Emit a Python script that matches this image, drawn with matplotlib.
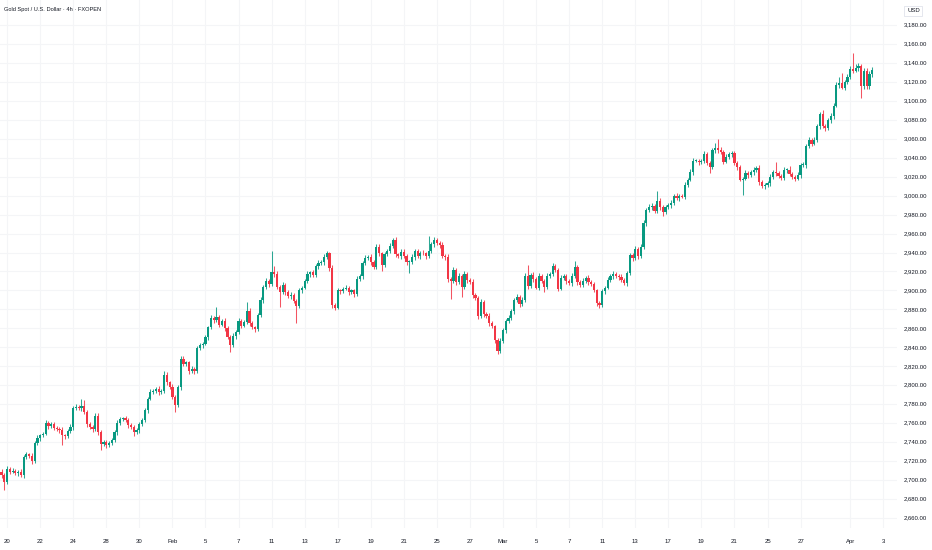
import numpy as np
import matplotlib
matplotlib.use("Agg")
import matplotlib.pyplot as plt
from matplotlib import font_manager as fm
from matplotlib.transforms import blended_transform_factory

# ---------------- data (4h candles, XAUUSD FXOPEN) ----------------
title = "Gold Spot / U.S. Dollar \u00b7 4h \u00b7 FXOPEN"
currency = "USD"
first_day = "2025-01-17"   # the series starts with the last 3 bars of this day
first_slot = 3
first_open = 2715

close = [
    2709, 2705, 2698,                       # Jan 17
    2712, 2709, 2710, 2707, 2709, 2705,     # Jan 20
    2724, 2727, 2725, 2720, 2739, 2744,     # Jan 21
    2747, 2749, 2760, 2757, 2759, 2755,     # Jan 22
    2754, 2753, 2747, 2746, 2752, 2756,     # Jan 23
    2776, 2777, 2776, 2778, 2772, 2759,     # Jan 24
    2756, 2754, 2768, 2751, 2738, 2740,     # Jan 27
    2737, 2739, 2742, 2751, 2760, 2764,     # Jan 28
    2765, 2763, 2758, 2756, 2751, 2753,     # Jan 29
    2759, 2763, 2774, 2786, 2793, 2794,     # Jan 30
    2796, 2793, 2794, 2811, 2803, 2798,     # Jan 31
    2788, 2779, 2798, 2828, 2822, 2824,     # Feb 3
    2815, 2817, 2815, 2839, 2842, 2844,     # Feb 4
    2851, 2861, 2871, 2869, 2872, 2864,     # Feb 5
    2868, 2860, 2851, 2842, 2852, 2856,     # Feb 6
    2868, 2863, 2867, 2878, 2866, 2861,     # Feb 7
    2859, 2874, 2890, 2904, 2910, 2907,     # Feb 10
    2919, 2917, 2904, 2898, 2906, 2898,     # Feb 11
    2894, 2895, 2889, 2884, 2900, 2903,     # Feb 12
    2910, 2917, 2919, 2916, 2926, 2929,     # Feb 13
    2930, 2935, 2939, 2924, 2885, 2882,     # Feb 14
    2900, 2899, 2902, 2903, 2898, 2900,     # Feb 17
    2896, 2912, 2915, 2929, 2934, 2935,     # Feb 18
    2930, 2925, 2946, 2939, 2927, 2938,     # Feb 19
    2942, 2947, 2953, 2938, 2936, 2941,     # Feb 20
    2936, 2930, 2930, 2935, 2942, 2936,     # Feb 21
    2940, 2939, 2936, 2942, 2949, 2953,     # Feb 24
    2950, 2948, 2936, 2935, 2912, 2910,     # Feb 25
    2922, 2909, 2915, 2904, 2917, 2911,     # Feb 26
    2909, 2895, 2892, 2873, 2888, 2875,     # Feb 27
    2873, 2866, 2862, 2848, 2836, 2847,     # Feb 28
    2858, 2868, 2871, 2878, 2890, 2893,     # Mar 3
    2886, 2890, 2915, 2905, 2916, 2912,     # Mar 4
    2903, 2915, 2910, 2904, 2915, 2917,     # Mar 5
    2926, 2922, 2902, 2913, 2915, 2910,     # Mar 6
    2908, 2915, 2925, 2909, 2906, 2910,     # Mar 7
    2913, 2909, 2907, 2900, 2887, 2885,     # Mar 10
    2899, 2903, 2911, 2915, 2917, 2915,     # Mar 11
    2914, 2911, 2908, 2918, 2937, 2934,     # Mar 12
    2944, 2936, 2946, 2971, 2985, 2988,     # Mar 13
    2989, 2984, 2994, 2988, 2983, 2988,     # Mar 14
    2990, 2992, 3000, 2997, 3000, 2999,     # Mar 17
    3011, 3017, 3025, 3037, 3037, 3035,     # Mar 18
    3037, 3044, 3034, 3030, 3048, 3050,     # Mar 19
    3048, 3046, 3036, 3041, 3044, 3045,     # Mar 20
    3034, 3030, 3017, 3018, 3024, 3022,     # Mar 21
    3025, 3027, 3029, 3014, 3010, 3011,     # Mar 24
    3013, 3020, 3025, 3024, 3021, 3019,     # Mar 25
    3027, 3027, 3023, 3020, 3018, 3022,     # Mar 26
    3032, 3032, 3052, 3059, 3055, 3059,     # Mar 27
    3073, 3086, 3073, 3071, 3080, 3084,     # Mar 28
    3095, 3117, 3119, 3114, 3120, 3125,     # Mar 31
    3134, 3132, 3135, 3137, 3116, 3131,     # Apr 1
    3116, 3128, 3133,                       # Apr 2
]

# upper / lower wick lengths (USD) above / below the candle body
wick_up = [
    2, 3, 2,
    3, 2, 3, 2, 2, 3,
    2, 3, 2, 3, 2, 3,
    2, 2, 3, 2, 2, 2,
    2, 2, 3, 2, 2, 3,
    2, 3, 2, 7, 6, 2,
    2, 2, 3, 3, 2, 2,
    2, 2, 2, 2, 3, 2,
    2, 3, 2, 2, 2, 2,
    2, 2, 2, 2, 3, 2,
    2, 3, 2, 4, 3, 2,
    3, 2, 2, 3, 3, 2,
    2, 3, 2, 2, 3, 2,
    2, 2, 3, 2, 11, 2,
    2, 3, 2, 2, 3, 2,
    3, 2, 2, 10, 3, 2,
    2, 2, 3, 2, 3, 2,
    23, 7, 3, 2, 3, 2,
    2, 3, 2, 2, 3, 2,
    2, 3, 2, 3, 2, 3,
    2, 3, 3, 2, 3, 2,
    3, 2, 2, 3, 2, 2,
    2, 3, 2, 2, 3, 2,
    3, 2, 3, 3, 2, 3,
    2, 3, 2, 3, 2, 3,
    3, 2, 2, 3, 2, 2,
    2, 3, 2, 15, 2, 3,
    2, 2, 3, 2, 3, 2,
    3, 2, 3, 2, 3, 2,
    2, 3, 2, 2, 3, 2,
    2, 3, 2, 2, 2, 3,
    2, 2, 3, 2, 2, 3,
    2, 3, 3, 12, 2, 3,
    2, 3, 2, 2, 3, 2,
    3, 2, 2, 3, 2, 2,
    2, 3, 6, 2, 2, 3,
    2, 3, 2, 2, 2, 2,
    2, 2, 3, 2, 3, 2,
    2, 3, 2, 2, 3, 3,
    3, 2, 3, 3, 2, 3,
    3, 2, 11, 3, 2, 2,
    2, 3, 2, 3, 2, 2,
    3, 2, 3, 3, 2, 2,
    2, 3, 2, 3, 2, 6,
    10, 3, 2, 3, 2, 2,
    2, 3, 2, 2, 3, 2,
    2, 3, 2, 3, 2, 2,
    2, 3, 2, 11, 2, 2,
    3, 2, 4, 2, 2, 3,
    2, 3, 2, 3, 2, 3,
    3, 2, 4, 3, 2, 3,
    3, 3, 6, 10, 2, 3,
    3, 17, 4, 3, 2, 4,
    4, 3, 3,
]
wick_dn = [
    2, 3, 8,
    2, 3, 2, 2, 3, 2,
    3, 2, 2, 3, 2, 2,
    3, 2, 2, 3, 2, 2,
    2, 3, 10, 3, 2, 2,
    3, 2, 2, 3, 2, 3,
    2, 3, 2, 4, 6, 2,
    3, 2, 2, 2, 3, 2,
    2, 2, 3, 2, 5, 2,
    3, 2, 2, 3, 2, 2,
    2, 3, 2, 2, 3, 2,
    3, 7, 2, 3, 2, 2,
    3, 2, 3, 2, 2, 3,
    2, 3, 2, 3, 2, 3,
    2, 3, 2, 7, 2, 3,
    2, 3, 2, 2, 3, 2,
    3, 2, 2, 3, 2, 3,
    2, 3, 2, 15, 2, 3,
    2, 3, 2, 18, 2, 3,
    2, 2, 3, 2, 2, 3,
    2, 3, 2, 3, 3, 3,
    2, 3, 2, 2, 3, 2,
    3, 2, 2, 3, 2, 2,
    3, 2, 2, 3, 7, 2,
    2, 3, 2, 3, 2, 3,
    2, 3, 12, 2, 3, 2,
    3, 2, 3, 2, 2, 3,
    2, 3, 2, 3, 3, 19,
    2, 3, 2, 11, 2, 3,
    2, 3, 2, 3, 2, 3,
    2, 3, 2, 3, 3, 2,
    2, 3, 2, 2, 3, 2,
    3, 2, 2, 3, 2, 3,
    2, 3, 2, 6, 2, 2,
    2, 3, 3, 2, 2, 3,
    2, 3, 2, 3, 2, 2,
    2, 3, 2, 2, 3, 4,
    2, 3, 2, 2, 3, 2,
    3, 2, 2, 3, 2, 3,
    2, 3, 2, 2, 3, 2,
    3, 2, 2, 3, 4, 2,
    2, 3, 2, 2, 3, 2,
    3, 2, 2, 3, 2, 3,
    2, 3, 2, 6, 2, 3,
    3, 2, 3, 2, 2, 3,
    2, 3, 2, 16, 2, 3,
    2, 3, 2, 3, 2, 3,
    2, 3, 2, 3, 2, 3,
    2, 3, 2, 2, 3, 2,
    3, 2, 3, 2, 3, 2,
    2, 3, 2, 3, 2, 3,
    3, 2, 3, 2, 3, 2,
    2, 3, 2, 3, 13, 3,
    4, 3, 3,
]

tick_dates = ["2025-01-20", "2025-01-22", "2025-01-24", "2025-01-28", "2025-01-30",
              "2025-02-03", "2025-02-05", "2025-02-07", "2025-02-11", "2025-02-13",
              "2025-02-17", "2025-02-19", "2025-02-21", "2025-02-25", "2025-02-27",
              "2025-03-03", "2025-03-05", "2025-03-07", "2025-03-11", "2025-03-13",
              "2025-03-17", "2025-03-19", "2025-03-21", "2025-03-25", "2025-03-27",
              "2025-04-01", "2025-04-03"]
tick_labels = ["20", "22", "24", "28", "30", "Feb", "5", "7", "11", "13", "17", "19",
               "21", "25", "27", "Mar", "5", "7", "11", "13", "17", "19", "21", "25",
               "27", "Apr", "3"]
price_ticks = list(range(2660, 3181, 20))

# ---------------- style ----------------
UP = "#089981"
DOWN = "#F23645"
GRID = "#f4f5f7"
TXT = "#131722"
BARS_PER_DAY = 6

avail = {f.name for f in fm.fontManager.ttflist}
FONT = "Liberation Sans Narrow" if "Liberation Sans Narrow" in avail else "Liberation Sans"
plt.rcParams["font.family"] = [FONT, "DejaVu Sans"]

W, H = 932, 550
fig = plt.figure(figsize=(W / 100, H / 100), dpi=100)
fig.patch.set_facecolor("white")
PL_W, PL_H, PL_B = 897, 528, 22
ax = fig.add_axes([0, PL_B / H, PL_W / W, PL_H / H])
ax.set_facecolor("white")
for s in ax.spines.values():
    s.set_visible(False)
ax.set_xticks([])
ax.set_yticks([])

c = np.array(close, dtype=float)
o = np.r_[first_open, c[:-1]]
hi = np.maximum(o, c) + np.array(wick_up, dtype=float)
lo = np.minimum(o, c) - np.array(wick_dn, dtype=float)
x = np.arange(len(c))
cols = np.where(c >= o, UP, DOWN)

ax.vlines(x, lo, hi, colors=cols, lw=0.75, alpha=0.85, zorder=2)
ax.bar(x, np.maximum(np.abs(c - o), 0.9), bottom=np.minimum(o, c), width=0.8,
       color=cols, linewidth=0, zorder=3)

# x positions of date ticks (first bar of each labelled day)
tick_pos = [BARS_PER_DAY * int(np.busday_count(first_day, d)) - first_slot for d in tick_dates]

ax.set_xlim(0.425, 326.0)
ax.set_ylim(2649.4, 3206.4)

for v in price_ticks:
    ax.axhline(v, color=GRID, lw=0.8, zorder=0)
for p in tick_pos:
    ax.axvline(p, color=GRID, lw=0.8, zorder=0)

# --- text ---
ytr = blended_transform_factory(ax.transAxes, ax.transData)
xtr = blended_transform_factory(ax.transData, ax.transAxes)

fs = 5.3
ylabs = []
for v in price_ticks:
    t = ax.text(1 + 7 / PL_W, v, f"{v:,.2f}", transform=ytr, ha="left", va="center",
                fontsize=fs, color=TXT, clip_on=False)
    ylabs.append(t)
xlabs = []
for p, lab in zip(tick_pos, tick_labels):
    t = ax.text(p, -13.7 / PL_H, lab, transform=xtr, ha="center", va="center",
                fontsize=fs, color=TXT, clip_on=False)
    xlabs.append(t)

ttl = fig.text(4 / W, 1 - 10 / H, title, ha="left", va="center", fontsize=4.8, color=TXT)
usd = fig.text(907 / W, 1 - 11 / H, currency, ha="left", va="center", fontsize=fs, color=TXT,
               bbox=dict(boxstyle="square,pad=0.45", fc="white", ec="#e0e3eb", lw=0.6))

# fit font sizes to the reference text widths
fig.canvas.draw()
r = fig.canvas.get_renderer()
w_lab = ylabs[-1].get_window_extent(r).width
if w_lab > 0:
    nfs = fs * 23.5 / w_lab
    for t in ylabs + xlabs + [usd]:
        t.set_fontsize(nfs)
w_t = ttl.get_window_extent(r).width
if w_t > 0:
    ttl.set_fontsize(4.8 * 97 / w_t)

fig.savefig("out.png", dpi=100, facecolor="white")
